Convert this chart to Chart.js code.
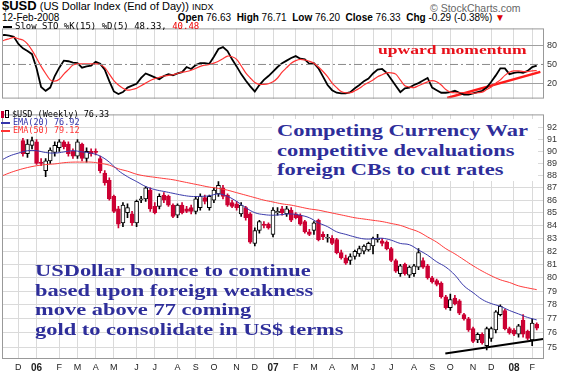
<!DOCTYPE html>
<html>
<head>
<meta charset="utf-8">
<title>$USD weekly</title>
<script src="https://cdn.jsdelivr.net/npm/chart.js@4.4.1/dist/chart.umd.min.js"></script>
<style>
  body { margin: 0; background: #fff; }
  #page { position: relative; width: 561px; height: 371px; overflow: hidden; font-family: Arial, "Liberation Sans", sans-serif; color: #000; font-size: 10px; }
  #page canvas { position: absolute; left: 0; }
  .txt { position: absolute; white-space: nowrap; line-height: 1; }
  .mono { font-family: "DejaVu Sans Mono", monospace; }
  .dash { display: inline-block; width: 9px; height: 2px; vertical-align: middle; margin-right: 3px; }
  .note { position: absolute; white-space: nowrap; font-family: "Liberation Serif", "Times New Roman", serif; font-weight: bold; color: #2e2e9a; font-size: 17px; line-height: 19.5px; transform: scaleX(1.32); transform-origin: 0 0; }
</style>
</head>
<body>
<div id="page">
  <div class="txt" style="left:2px; top:0px; font-size:11px; line-height:11px;"><b style="font-size:13px">$USD</b> <span>(US Dollar Index (End of Day))</span> <span style="font-size:9px">INDX</span></div>
  <div class="txt" style="left:430px; top:3px; font-size:10.5px; color:#666;">© StockCharts.com</div>
  <div class="txt" style="left:2px; top:13px; font-size:10px; line-height:9px;">12-Feb-2008</div>
  <div class="txt" style="right:56px; top:13px; font-size:10px; line-height:9px;"><b>Open</b> 76.63 &nbsp;<b>High</b> 76.71 &nbsp;<b>Low</b> 76.20 &nbsp;<b>Close</b> 76.33 &nbsp;<b>Chg</b> -0.29 (-0.38%) <span style="color:#d00">▼</span></div>

  <canvas id="stoChart" width="561" height="87" style="top:20px"></canvas>
  <canvas id="priceChart" width="561" height="265" style="top:106px"></canvas>

  <div class="txt mono" style="left:3px; top:22px; font-size:9px;"><span class="dash" style="background:#000"></span>Slow STO %K(15) %D(5) 48.33, <span style="color:#e00">40.48</span></div>
  <div class="txt mono" style="left:1px; top:110px; font-size:8.5px;"><span style="display:inline-block;width:3px;height:7px;background:#cc0033;vertical-align:-1px"></span><span style="display:inline-block;width:2px;height:6px;border:1px solid #000;margin:0 3px 0 1px;vertical-align:-1px"></span>$USD (Weekly) 76.33</div>
  <div class="txt mono" style="left:1px; top:118px; font-size:8.5px; color:#33a;"><span class="dash" style="background:#33a"></span>EMA(20) 76.92</div>
  <div class="txt mono" style="left:1px; top:126px; font-size:8.5px; color:#f33;"><span class="dash" style="background:#f33"></span>EMA(50) 79.12</div>

  <div class="txt" style="left:378px; top:43px; font-family:'Liberation Serif',serif; font-weight:bold; font-size:13px; color:#e8101a; transform:scaleX(1.35); transform-origin:0 0;">upward momentum</div>

  <div style="position:absolute; left:272px; top:119px; width:266px; height:62px; background:#fff;"></div>
  <div class="note" style="left:277px; top:121px;">Competing Currency War<br>competitive devaluations<br>foreign CBs to cut rates</div>

  <div class="note" style="left:35px; top:261px;">USDollar bounce to continue<br>based upon foreign weakness<br>move above 77 coming<br>gold to consolidate in US$ terms</div>
</div>

<script>
// $USD weekly, Dec 2005 - Feb 2008. x = week number, week 0 = first week of Jan 2006

// month grid / labels
const monthWeeks = [-4, 0, 5, 9, 13, 17, 22, 26, 31, 35, 39, 44, 48, 52, 57, 61, 65, 70, 74, 78, 83, 87, 91, 96, 100, 105, 109];
const monthLabels = ['D', '06', 'F', 'M', 'A', 'M', 'J', 'J', 'A', 'S', 'O', 'N', 'D', '07', 'F', 'M', 'A', 'M', 'J', 'J', 'A', 'S', 'O', 'N', 'D', '08', 'F'];
const priceTicks = [75, 76, 77, 78, 79, 80, 81, 82, 83, 84, 85, 86, 87, 88, 89, 90, 91, 92];
const stoTicks = [20, 50, 80];

// candles, first one is week -3
const candleStart = -3;
const opens = [
    90.9, 89.8, 90.5, 90.8, 89.1, 88.4, 89.2, 89.9, 90.3, 90.8,
    90.6, 90.0, 89.6, 90.6, 89.4, 90.0, 90.0, 89.4, 88.2, 87.6,
    86.3, 85.3, 84.2, 85.0, 84.9, 84.2, 86.0, 86.1, 86.8, 85.5,
    85.5, 86.4, 86.3, 85.6, 84.8, 85.6, 85.3, 85.4, 85.1, 85.4,
    86.2, 85.4, 86.0, 86.5, 87.0, 86.4, 85.8, 85.7, 84.9, 85.4,
    84.9, 82.6, 83.6, 84.1, 84.1, 83.3, 85.0, 85.3, 84.9, 85.2,
    84.9, 84.8, 84.3, 83.5, 83.6, 84.4, 83.3, 83.0, 83.0, 82.9,
    81.9, 81.5, 81.3, 81.6, 81.8, 82.0, 82.1, 82.4, 82.9, 82.8,
    82.7, 82.2, 81.3, 80.3, 81.0, 80.2, 80.3, 80.8, 81.3, 80.9,
    80.0, 79.8, 79.6, 78.6, 77.8, 78.5, 78.3, 77.3, 77.0, 76.3,
    75.5, 75.9, 75.1, 75.6, 76.2, 77.3, 77.6, 76.3, 76.2, 75.9,
    76.9, 76.1, 75.5, 76.63
];
const highs = [
    91.1, 91.0, 91.2, 91.0, 89.4, 89.4, 90.3, 90.8, 91.0, 90.9,
    90.8, 90.2, 91.0, 90.7, 90.3, 90.2, 90.2, 89.6, 88.4, 87.8,
    86.4, 85.5, 85.8, 85.7, 85.1, 86.0, 86.3, 87.1, 87.0, 85.8,
    86.5, 86.6, 86.4, 85.7, 85.7, 85.8, 85.5, 85.6, 86.3, 86.5,
    86.4, 86.4, 87.0, 87.5, 87.2, 86.5, 86.0, 85.9, 85.8, 85.5,
    85.0, 83.8, 84.4, 84.3, 84.2, 85.4, 85.4, 85.5, 85.5, 85.4,
    85.0, 84.9, 84.4, 83.7, 84.3, 84.5, 83.5, 83.3, 83.2, 83.0,
    82.1, 81.7, 81.8, 82.1, 82.4, 82.5, 82.7, 83.1, 83.3, 83.0,
    82.8, 82.3, 81.4, 81.0, 81.1, 80.9, 81.0, 82.2, 81.5, 81.0,
    80.1, 79.9, 79.7, 78.7, 78.8, 78.7, 78.4, 77.4, 77.1, 76.4,
    76.0, 76.0, 76.4, 76.4, 77.6, 78.0, 77.7, 76.4, 76.3, 76.6,
    77.3, 76.2, 77.0, 76.71
];
const lows = [
    89.6, 89.5, 90.2, 88.9, 88.8, 87.9, 89.0, 89.6, 90.0, 90.2,
    89.6, 89.4, 89.4, 89.2, 89.1, 89.6, 89.7, 88.2, 87.2, 86.0,
    85.0, 83.8, 83.9, 84.6, 84.0, 83.9, 85.8, 85.9, 85.1, 84.9,
    85.3, 85.8, 85.5, 84.6, 84.6, 84.9, 85.0, 84.9, 84.9, 85.2,
    85.7, 85.2, 85.8, 86.3, 86.1, 85.5, 85.4, 85.2, 84.7, 84.4,
    82.6, 82.4, 83.4, 83.8, 83.7, 83.1, 84.8, 84.8, 84.7, 84.3,
    84.5, 84.0, 83.4, 83.2, 83.3, 82.8, 82.9, 82.7, 82.5, 81.8,
    81.4, 81.0, 81.0, 81.4, 81.6, 81.8, 82.0, 81.8, 82.7, 82.4,
    82.1, 81.2, 80.4, 80.1, 80.2, 80.0, 80.1, 80.6, 80.7, 79.9,
    79.6, 79.4, 78.5, 77.7, 77.6, 78.0, 77.3, 76.9, 76.1, 75.3,
    75.3, 75.2, 74.8, 75.4, 76.0, 77.2, 76.2, 75.9, 75.8, 75.7,
    75.7, 75.5, 75.1, 76.20
];
const closes = [
    89.8, 90.6, 90.9, 89.0, 89.0, 89.2, 90.1, 90.5, 90.8, 90.4,
    89.8, 89.6, 90.8, 89.4, 90.0, 89.8, 89.9, 88.4, 87.4, 86.1,
    85.1, 84.1, 85.6, 85.4, 84.2, 85.9, 86.1, 87.0, 85.3, 85.0,
    86.3, 86.0, 85.6, 84.7, 85.6, 85.0, 85.1, 85.1, 86.1, 86.3,
    85.9, 86.3, 86.8, 87.2, 86.3, 85.6, 85.5, 85.4, 85.6, 84.6,
    82.7, 83.6, 84.3, 84.0, 83.8, 85.2, 85.1, 85.0, 85.3, 84.4,
    84.6, 84.1, 83.5, 83.3, 84.2, 82.9, 83.1, 83.05, 82.6, 81.9,
    81.5, 81.1, 81.6, 82.0, 82.2, 82.4, 82.6, 83.0, 83.0, 82.6,
    82.2, 81.3, 80.5, 80.9, 80.3, 80.8, 80.9, 81.9, 80.8, 80.0,
    79.7, 79.5, 78.6, 77.8, 78.4, 78.1, 77.4, 77.0, 76.2, 75.4,
    75.9, 75.3, 76.3, 76.3, 77.5, 77.9, 76.3, 76.0, 75.9, 76.5,
    75.9, 75.6, 76.7, 76.33
];

// moving averages, read every second week
const emaWeeks = [
    -8, -6, -4, -2, 0, 2, 4, 6, 8, 10,
    12, 14, 16, 18, 20, 22, 24, 26, 28, 30,
    32, 34, 36, 38, 40, 42, 44, 46, 48, 50,
    52, 54, 56, 58, 60, 62, 64, 66, 68, 70,
    72, 74, 76, 78, 80, 82, 84, 86, 88, 90,
    92, 94, 96, 98, 100, 102, 104, 106, 108, 110
];
const ema20 = [
    89.2, 89.6, 89.85, 90.05, 90.05, 89.9, 89.85, 89.95, 90.05, 89.95,
    89.85, 89.6, 89.1, 88.4, 87.9, 87.5, 87.1, 86.85, 86.7, 86.55,
    86.4, 86.3, 86.3, 86.35, 86.5, 86.3, 85.9, 85.4, 85.0, 84.85,
    84.8, 84.85, 84.9, 84.8, 84.6, 84.2, 83.9, 83.5, 83.3, 83.1,
    82.95, 82.95, 83.0, 82.85, 82.6, 82.5, 82.1, 81.7, 81.2, 80.8,
    80.2, 79.4, 78.9, 78.4, 78.1, 77.9, 77.6, 77.35, 77.1, 76.92
];
const ema50 = [
    87.9, 88.2, 88.45, 88.65, 88.8, 88.9, 88.95, 89.05, 89.1, 89.1,
    89.1, 89.0, 88.85, 88.55, 88.35, 88.1, 87.95, 87.85, 87.75, 87.65,
    87.5, 87.35, 87.2, 87.05, 86.95, 86.8, 86.6, 86.4, 86.2, 86.0,
    85.85, 85.7, 85.6, 85.45, 85.3, 85.2, 85.05, 84.9, 84.75, 84.6,
    84.5, 84.4, 84.3, 84.15, 84.0, 83.75, 83.5, 83.1, 82.7, 82.2,
    81.8, 81.35, 80.9, 80.5, 80.15, 79.85, 79.65, 79.4, 79.25, 79.12
];

// slow stochastic, first value is week -8
const stoStart = -8;
const stoK = [
    95, 96, 95, 93, 82, 75, 71, 66, 44, 15,
    9, 14, 32, 45, 56, 55, 53, 52, 45, 47,
    48, 54, 51, 42, 24, 8, 4, 7, 14, 17,
    20, 29, 36, 33, 30, 27, 32, 35, 33, 36,
    38, 46, 43, 49, 52, 52, 51, 62, 74, 77,
    71, 58, 47, 35, 25, 16, 8, 18, 26, 32,
    39, 46, 52, 56, 60, 63, 59, 58, 51, 52,
    44, 31, 18, 10, 6, 5, 5, 7, 13, 18,
    24, 28, 36, 42, 43, 37, 27, 17, 7, 13,
    14, 18, 21, 25, 29, 14, 10, 6, 6, 7,
    9, 6, 3, 3, 5, 7, 9, 14, 23, 33,
    44, 44, 35, 37, 38, 37, 40, 46, 48.33
];
const stoD = [
    85, 88, 90, 92, 90, 88, 82, 72, 60, 47,
    36, 26, 24, 27, 35, 42, 49, 51, 51, 51,
    51, 51, 50, 45, 35, 25, 18, 13, 10, 11,
    13, 17, 21, 25, 28, 30, 32, 33, 34, 36,
    38, 39, 41, 44, 47, 49, 50, 52, 55, 59,
    63, 62, 58, 48, 37, 29, 22, 19, 19, 20,
    23, 29, 38, 45, 52, 56, 58, 57, 55, 52,
    46, 39, 31, 21, 14, 8, 6, 6, 9, 13,
    18, 22, 26, 31, 34, 37, 37, 35, 26, 17,
    15, 14, 17, 20, 23, 25, 23, 18, 11, 7,
    6, 6, 6, 5, 5, 6, 7, 11, 15, 21,
    26, 33, 38, 40, 40, 39, 39, 40, 40.48
];
const stoMid = 50;

// hand drawn trend lines
const stoTrendWeeks = [90.3, 110.8];
const stoTrendValues = [-2, 38.5];
const supportWeeks = [89.9, 111.4];
const supportValues = [74.55, 75.57];

const WEEK_MIN = -7.6;
const WEEK_MAX = 111.6;
const RED = '#cc0033';
const GRID = '#dadada';

// thin grey box around each panel
const panelFrame = {
    id: 'panelFrame',
    afterDraw(chart) {
        const { ctx, chartArea: a } = chart;
        ctx.save();
        ctx.strokeStyle = '#999';
        ctx.lineWidth = 1;
        ctx.strokeRect(a.left + 0.5, a.top + 0.5, a.right - a.left - 1, a.bottom - a.top - 1);
        ctx.restore();
    }
};

function weekAxis(showLabels) {
    return {
        type: 'linear',
        min: WEEK_MIN,
        max: WEEK_MAX,
        offset: false,
        afterBuildTicks: (scale) => { scale.ticks = monthWeeks.map(v => ({ value: v })); },
        afterFit: (scale) => { scale.height = showLabels ? 12 : 0; },
        grid: { color: GRID, drawTicks: false, offset: false },
        border: { display: false },
        ticks: {
            display: showLabels,
            autoSkip: false,
            maxRotation: 0,
            padding: 3,
            color: '#222',
            font: (c) => {
                const year = /\d/.test(monthLabels[c.index] || '');
                return { family: 'Arial', size: year ? 10 : 9, weight: year ? 'bold' : 'normal' };
            },
            callback: (v, i) => monthLabels[i]
        }
    };
}

// price panel
const candleWeeks = opens.map((o, i) => candleStart + i);
const down = opens.map((o, i) => closes[i] < o);

new Chart(document.getElementById('priceChart'), {
    type: 'bar',
    data: {
        datasets: [
            {
                type: 'line',
                data: emaWeeks.map((w, i) => ({ x: w, y: ema20[i] })),
                borderColor: '#3a3aaa',
                borderWidth: 1,
                pointRadius: 0,
                tension: 0.4,
                order: 0
            },
            {
                type: 'line',
                data: emaWeeks.map((w, i) => ({ x: w, y: ema50[i] })),
                borderColor: '#ff3b3b',
                borderWidth: 1,
                pointRadius: 0,
                tension: 0.4,
                order: 0
            },
            {
                type: 'line',
                data: supportWeeks.map((w, i) => ({ x: w, y: supportValues[i] })),
                borderColor: '#000',
                borderWidth: 2,
                pointRadius: 0,
                order: 0
            },
            {
                data: candleWeeks.map((w, i) => ({ x: w, y: [opens[i], closes[i]] })),
                backgroundColor: down.map(d => d ? RED : '#fff'),
                borderColor: down.map(d => d ? RED : '#000'),
                borderWidth: 1,
                borderSkipped: false,
                barThickness: 4,
                minBarLength: 1,
                grouped: false,
                order: 1
            },
            {
                data: candleWeeks.map((w, i) => ({ x: w, y: [lows[i], highs[i]] })),
                backgroundColor: down.map(d => d ? RED : '#000'),
                borderWidth: 0,
                barThickness: 1,
                grouped: false,
                order: 2
            }
        ]
    },
    options: {
        responsive: false,
        animation: false,
        layout: { padding: { left: 2, top: 1, right: 0, bottom: 0 } },
        plugins: { legend: { display: false }, tooltip: { enabled: false } },
        scales: {
            x: weekAxis(true),
            y: {
                type: 'logarithmic',
                position: 'right',
                min: 74.17,
                max: 93.15,
                afterBuildTicks: (scale) => { scale.ticks = priceTicks.map(v => ({ value: v })); },
                afterFit: (scale) => { scale.width = 17; },
                grid: { color: GRID, drawTicks: false },
                border: { display: false },
                ticks: { padding: 3, color: '#333', font: { family: 'Arial', size: 9 }, callback: v => String(v) }
            }
        }
    },
    plugins: [panelFrame]
});

// stochastic panel
const stoWeeks = stoK.map((k, i) => stoStart + i);

new Chart(document.getElementById('stoChart'), {
    type: 'line',
    data: {
        datasets: [
            {
                data: [{ x: WEEK_MIN, y: stoMid }, { x: WEEK_MAX, y: stoMid }],
                borderColor: '#8a8a8a',
                borderWidth: 1,
                borderDash: [8, 3, 2, 3],
                pointRadius: 0
            },
            {
                data: stoWeeks.map((w, i) => ({ x: w, y: stoD[i] })),
                borderColor: '#ff3333',
                borderWidth: 1.2,
                pointRadius: 0,
                tension: 0.3
            },
            {
                data: stoWeeks.map((w, i) => ({ x: w, y: stoK[i] })),
                borderColor: '#000',
                borderWidth: 1.8,
                pointRadius: 0
            },
            {
                data: stoTrendWeeks.map((w, i) => ({ x: w, y: stoTrendValues[i] })),
                borderColor: '#ff1a1a',
                borderWidth: 2.5,
                pointRadius: 0
            }
        ]
    },
    options: {
        responsive: false,
        animation: false,
        layout: { padding: { left: 2, top: 1, right: 0, bottom: 2 } },
        plugins: { legend: { display: false }, tooltip: { enabled: false } },
        scales: {
            x: weekAxis(false),
            y: {
                type: 'linear',
                position: 'right',
                min: -3.1,
                max: 106.1,
                afterBuildTicks: (scale) => { scale.ticks = stoTicks.map(v => ({ value: v })); },
                afterFit: (scale) => { scale.width = 17; },
                grid: { color: (c) => (c.tick && c.tick.value === stoMid) ? 'rgba(0,0,0,0)' : '#a0a0a0', drawTicks: false },
                border: { display: false },
                ticks: { padding: 3, color: '#333', font: { family: 'Arial', size: 9 }, callback: v => String(v) }
            }
        }
    },
    plugins: [panelFrame]
});
</script>
</body>
</html>
